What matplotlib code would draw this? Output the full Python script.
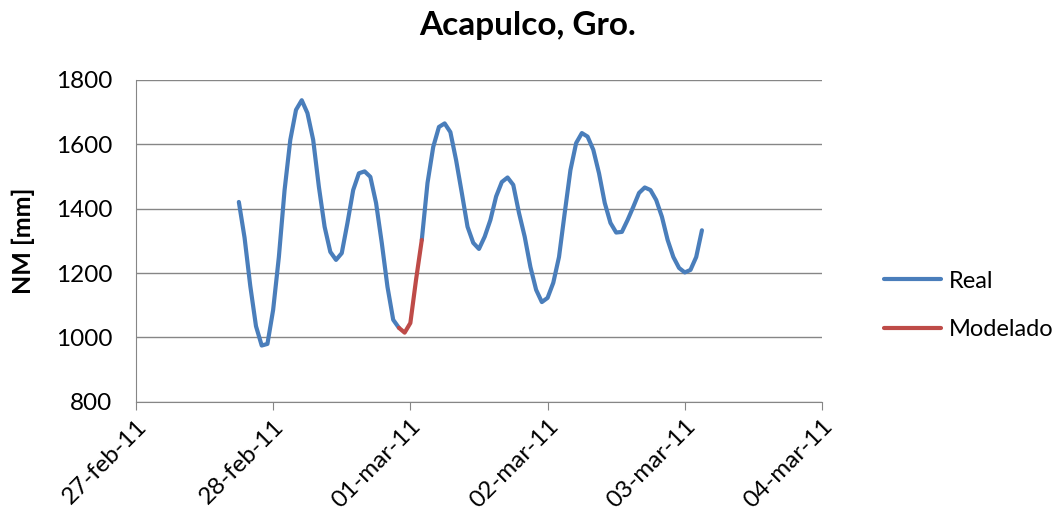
import matplotlib
matplotlib.use('Agg')
import matplotlib.pyplot as plt
import numpy as np
import pandas as pd

plt.rcParams['font.family'] = ['Lato', 'DejaVu Sans']

# hourly tide levels, starting 27-feb-11 18:00
start = '2011-02-27 18:00'
real = [1421, 1310, 1160, 1035, 975, 980, 1086, 1250, 1458, 1614, 1707, 1737,
        1697, 1614, 1468, 1344, 1266, 1241, 1262, 1356, 1458, 1510, 1516, 1499,
        1418, 1294, 1157, 1055, 1030, np.nan, np.nan, np.nan, 1303, 1480, 1592,
        1654, 1665, 1638, 1551, 1449, 1344, 1294, 1275, 1313, 1365, 1438, 1483,
        1497, 1474, 1387, 1313, 1219, 1148, 1110, 1123, 1170, 1250, 1387, 1520,
        1604, 1635, 1624, 1583, 1510, 1418, 1356, 1326, 1328, 1365, 1406, 1449,
        1466, 1458, 1427, 1375, 1303, 1250, 1216, 1202, 1210, 1250, 1333]
mod_start = '2011-02-28 22:00'
modelado = [1030, 1015, 1045, 1180, 1303]

tick_dates = pd.date_range('2011-02-27', '2011-03-04', freq='D')
tick_labels = ['27-feb-11', '28-feb-11', '01-mar-11', '02-mar-11', '03-mar-11', '04-mar-11']

t_real = pd.date_range(start, periods=len(real), freq='h')
t_mod = pd.date_range(mod_start, periods=len(modelado), freq='h')

fig = plt.figure(figsize=(10.62, 5.26), dpi=100)
ax = fig.add_axes([0.128, 0.236, 0.646, 0.612])

ax.plot(t_real, real, color='#4A7EBB', lw=3.0, label='Real',
        solid_capstyle='round', solid_joinstyle='round')
ax.plot(t_mod, modelado, color='#BE4B48', lw=3.0, label='Modelado',
        solid_capstyle='round', solid_joinstyle='round')

ax.set_xlim(tick_dates[0], tick_dates[-1])
ax.set_ylim(800, 1800)
ax.set_yticks(range(800, 1801, 200))
ax.set_xticks(tick_dates)
ax.set_xticklabels(tick_labels, rotation=45, ha='right', rotation_mode='anchor')
ax.grid(axis='y', color='#868686', lw=1)
ax.set_axisbelow(True)
for s in ['top', 'right']:
    ax.spines[s].set_visible(False)
for s in ['left', 'bottom']:
    ax.spines[s].set_color('#868686')
ax.tick_params(axis='y', length=0, labelsize=17.5, pad=17)
ax.tick_params(axis='x', length=6, color='#868686', labelsize=17.5, pad=4)

ax.set_ylabel('NM [mm]', fontsize=18, fontweight='bold', labelpad=15)
fig.suptitle('Acapulco, Gro.', fontsize=24, fontweight='bold', x=0.497, y=0.98)

ax.legend(loc='center left', bbox_to_anchor=(1.077, 0.30), frameon=False,
          fontsize=17, handlelength=2.4, handletextpad=0.35, labelspacing=1.15,
          borderaxespad=0)

fig.savefig('out.png', dpi=100)
